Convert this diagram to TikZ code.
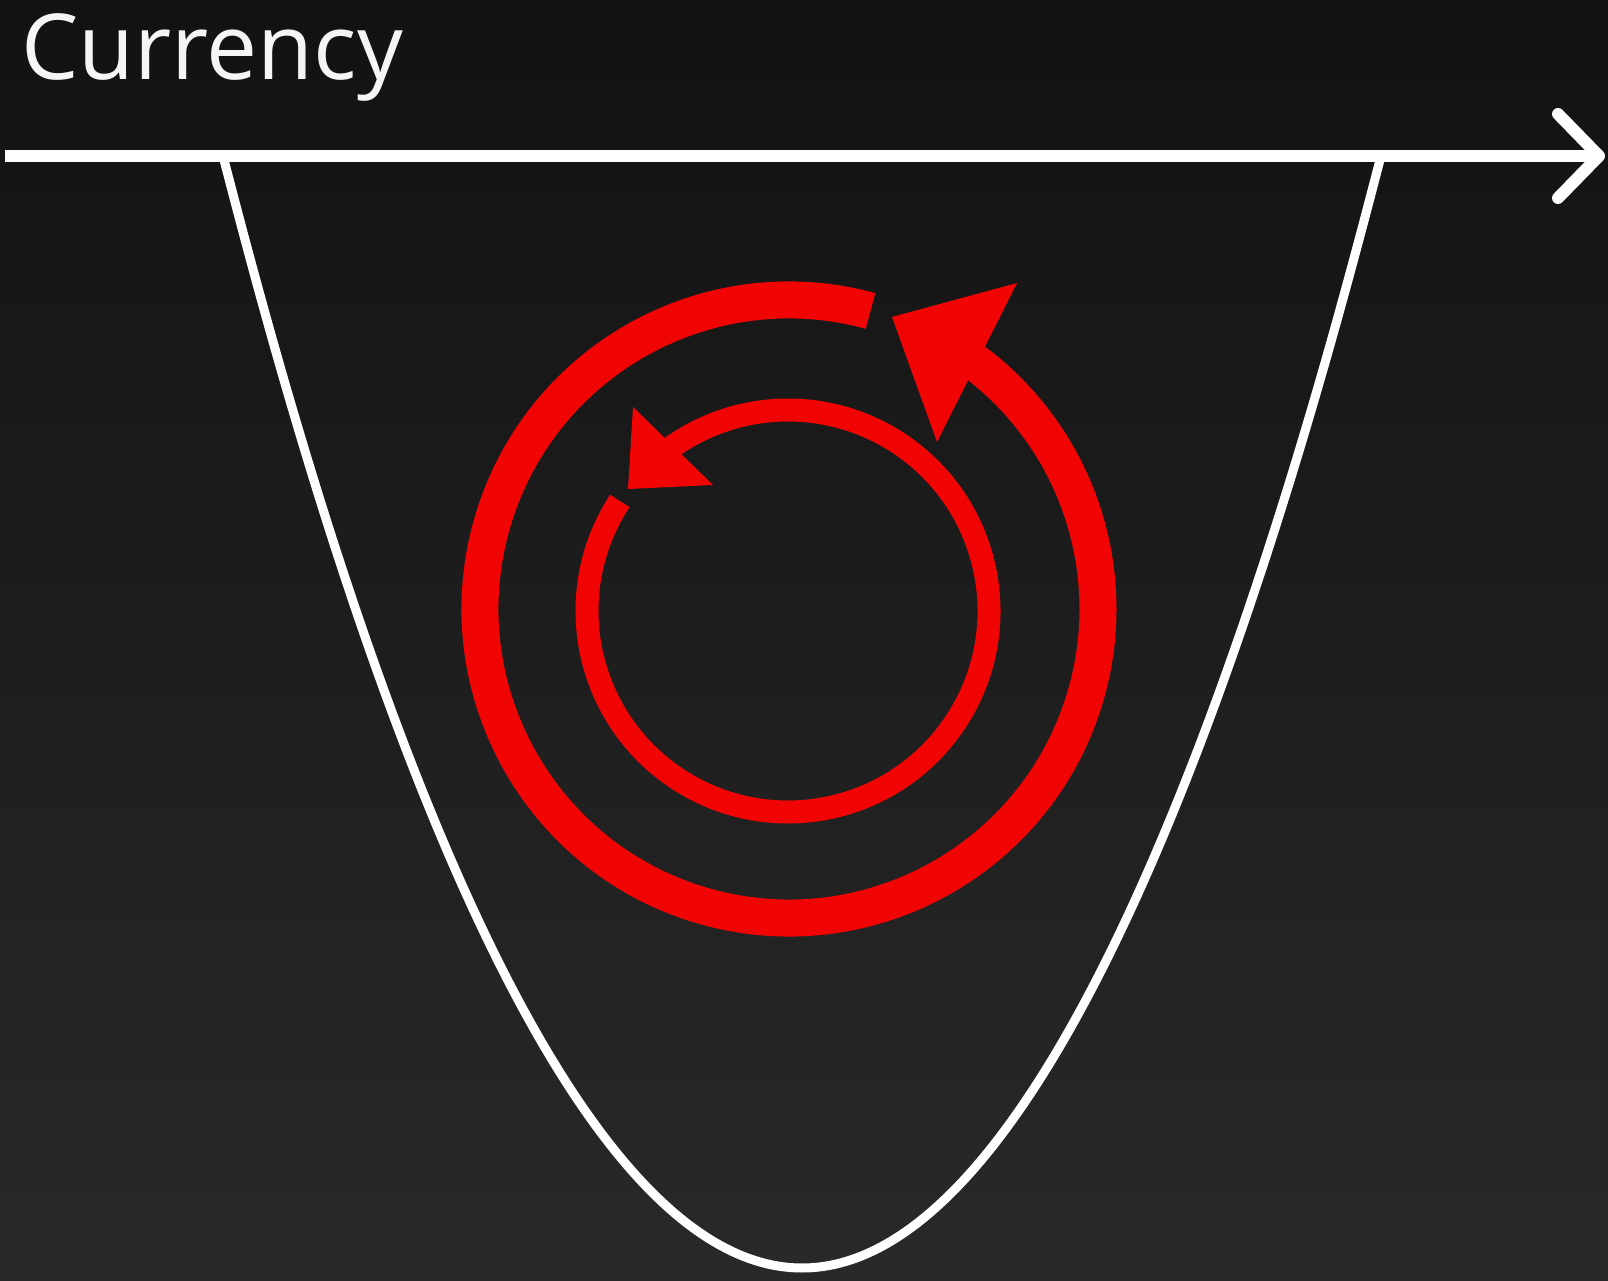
\documentclass[tikz,border=0pt]{standalone}
\usepackage{fontspec}
\newfontfamily\labelfont{Open Sans}
\definecolor{bgtop}{RGB}{18,18,18}
\definecolor{bgbot}{RGB}{41,41,41}
\definecolor{loopred}{RGB}{240,4,4}
\definecolor{labelwhite}{RGB}{245,245,245}
\begin{document}
\begin{tikzpicture}[x=1pt,y=1pt,
  axisline/.style={draw=white,line width=12pt},
  axishead/.style={draw=white,line width=12pt,line cap=round,line join=round},
  wellcurve/.style={draw=white,line width=9pt},
  bigloop/.style={draw=loopred,line width=37pt},
  smallloop/.style={draw=loopred,line width=23pt},
  loophead/.style={fill=loopred},
  axislabel/.style={text=labelwhite,inner sep=0pt,anchor=base west,font=\labelfont\fontsize{91}{96}\selectfont}]
\shade[top color=bgtop,bottom color=bgbot] (0,0) rectangle (1608,1280);
\useasboundingbox (0,0) rectangle (1608,1280);
% axis
\coordinate (axstart) at (5,1124);
\coordinate (axtip) at (1599,1124);
\coordinate (barbup) at (1558,1166);
\coordinate (barbdown) at (1558,1082);
\draw[axisline] (axstart) -- (axtip);
\draw[axishead] (barbup) -- (axtip) -- (barbdown);
\node[axislabel] (lbl) at (21,1200) {Currency};
% potential well
\coordinate (wl) at (223,1124);
\coordinate (wb) at (802,12);
\coordinate (wr) at (1381,1124);
\draw[wellcurve] (wl) parabola bend (wb) (wr);
% outer loop
\coordinate (oc) at (789,671);
\draw[bigloop] ([shift={(74.7:309pt)}]oc) arc[start angle=74.7, end angle=413.2, radius=309pt];
\fill[loophead] (1017,997) -- (892,963) -- (937,838) -- cycle;
% inner loop
\coordinate (ic) at (788,669);
\draw[smallloop] ([shift={(146.8:201pt)}]ic) arc[start angle=146.8, end angle=485.5, radius=201pt];
\fill[loophead] (633,873) -- (628,791) -- (713,795) -- cycle;
\end{tikzpicture}
\end{document}
